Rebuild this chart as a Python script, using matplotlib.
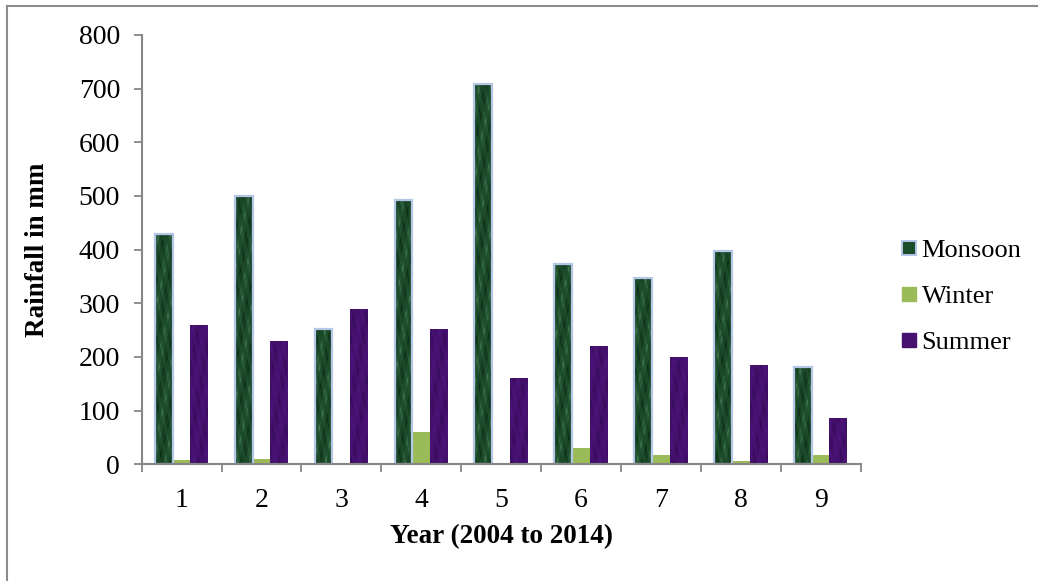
import numpy as np
import matplotlib
matplotlib.use("Agg")
import matplotlib.pyplot as plt
from matplotlib.lines import Line2D

# Seasonal rainfall, 2004 to 2014
years = [1, 2, 3, 4, 5, 6, 7, 8, 9]
monsoon = [430, 500, 252, 492, 708, 374, 347, 397, 181]
winter = [8, 9, 0, 60, 0, 30, 17, 7, 17]
summer = [260, 230, 290, 252, 161, 220, 200, 185, 86]
series_names = ["Monsoon", "Winter", "Summer"]
y_ticks = [0, 100, 200, 300, 400, 500, 600, 700, 800]

plt.rcParams["font.family"] = ["Liberation Serif", "DejaVu Serif"]

fig = plt.figure(figsize=(10.38, 5.81), dpi=100)
ax = fig.add_axes([0.1365, 0.2009, 0.829 - 0.1365, 0.9398 - 0.2009])

x = np.arange(len(years))
w = 0.222
green = "#1d4c2b"
lime = "#9bbb59"
purple = "#46116f"
edge_blue = "#b4c7e7"

b1 = ax.bar(x - w, monsoon, w, color=green, edgecolor="none", zorder=3)
b2 = ax.bar(x, winter, w, color=lime, edgecolor="none", zorder=3)
b3 = ax.bar(x + w, summer, w, color=purple, edgecolor="none", zorder=3)


def marble(base, light, dark, n=160, phase=0.0, aspect=6.0):
    """Mottled marble-like texture built from layered sines."""
    yy, xx = np.mgrid[0:n, 0:n] / n
    yy = yy * aspect
    t = (np.sin(9 * xx + 5 * yy + phase)
         + 0.8 * np.sin(17 * xx - 11 * yy + 2.1 * phase)
         + 0.5 * np.sin(31 * xx + 23 * yy + 0.7 * phase + 0.5)
         + 0.35 * np.sin(53 * xx - 41 * yy + 1.3))
    t = (t - t.min()) / (t.max() - t.min())
    base = np.array(matplotlib.colors.to_rgb(base))
    light = np.array(matplotlib.colors.to_rgb(light))
    dark = np.array(matplotlib.colors.to_rgb(dark))
    tt = t[..., None]
    img = np.where(tt > 0.5,
                   base + (light - base) * ((tt - 0.5) * 2) ** 2.5,
                   base + (dark - base) * ((0.5 - tt) * 2) ** 1.5)
    return np.clip(img, 0, 1)


def texture_bars(bars, base, light, dark, step):
    for i, rect in enumerate(bars.patches):
        if rect.get_height() <= 0:
            continue
        x0, y0 = rect.get_x(), rect.get_y()
        h = rect.get_height()
        tex = marble(base, light, dark, phase=i * step, aspect=max(h / 100.0, 1.0))
        im = ax.imshow(tex, extent=[x0, x0 + rect.get_width(), y0, y0 + h],
                       aspect="auto", zorder=3.5, interpolation="bilinear")
        im.set_clip_path(rect)


texture_bars(b1, green, "#5a9570", "#062010", 1.3)
texture_bars(b3, purple, "#55188a", "#2e0850", 0.9)

# light blue outline drawn above the Monsoon texture
ax.bar(x - w, monsoon, w, color="none", edgecolor=edge_blue, linewidth=1.6, zorder=4)

ax.set_xlim(-0.5, len(years) - 0.5)
ax.set_ylim(0, 800)
ax.set_yticks(y_ticks)
ax.set_xticks(x)
ax.set_xticklabels([str(v) for v in years])
# category boundary ticks on the x axis
ax.set_xticks(np.arange(-0.5, len(years), 1.0), minor=True)
ax.tick_params(axis="x", which="major", length=0, labelsize=20, pad=17)
ax.tick_params(axis="x", which="minor", length=6, width=1.3, color="#868686", direction="out")
ax.tick_params(axis="y", length=6, width=1.3, color="#868686", labelsize=20, pad=9.5)

for s in ["top", "right"]:
    ax.spines[s].set_visible(False)
for s in ["left", "bottom"]:
    ax.spines[s].set_color("#868686")
    ax.spines[s].set_linewidth(1.5)
    ax.spines[s].set_zorder(5)

ax.set_ylabel("Rainfall in mm", fontsize=19.5, fontweight="bold", labelpad=21)
ax.set_xlabel("Year (2004 to 2014)", fontsize=19.5, fontweight="bold", labelpad=8)

handles = [
    Line2D([], [], marker="s", linestyle="none", markersize=10, markerfacecolor=green,
           markeredgecolor=edge_blue, markeredgewidth=1.4),
    Line2D([], [], marker="s", linestyle="none", markersize=10, markerfacecolor=lime,
           markeredgecolor=lime),
    Line2D([], [], marker="s", linestyle="none", markersize=10, markerfacecolor=purple,
           markeredgecolor=purple),
]
fig.legend(handles, series_names, loc="center left", bbox_to_anchor=(0.856, 0.49),
           frameon=False, fontsize=19, handlelength=0.55, handletextpad=0.2,
           labelspacing=0.85, borderpad=0)

# outer frame lines
fig.add_artist(Line2D([7 / 1038, 1], [1 - 6 / 581, 1 - 6 / 581], transform=fig.transFigure,
                      color="#8c8c8c", linewidth=1.5))
fig.add_artist(Line2D([7 / 1038, 7 / 1038], [0, 1 - 6 / 581], transform=fig.transFigure,
                      color="#8c8c8c", linewidth=1.5))

fig.savefig("out.png", dpi=100)
